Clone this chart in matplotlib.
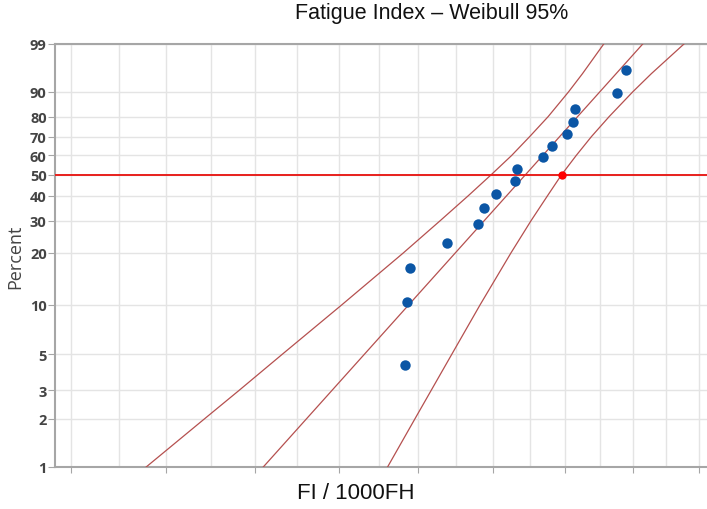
import numpy as np
import matplotlib
matplotlib.use("Agg")
import matplotlib.pyplot as plt

# failure data (FI / 1000FH) and median-rank percent
fi_values = [18.83, 18.86, 18.90, 19.38, 19.79, 19.87, 20.03, 20.30,
             20.32, 20.68, 20.82, 21.03, 21.12, 21.14, 21.76, 21.89]
rank_pct = [4.3, 10.4, 16.5, 22.6, 28.7, 34.8, 40.9, 47.0,
            53.0, 59.1, 65.2, 71.3, 77.4, 83.5, 89.6, 95.7]

# fitted Weibull line (end points)
fit_pct = [1, 99]
fit_x = [17.10, 22.14]

# 95% confidence bounds
band_pct = [1, 2, 3, 5, 10, 20, 30, 40, 50, 60, 70, 80, 90, 95, 99]
band_lower = [15.79, 16.43, 16.82, 17.32, 18.04, 18.81, 19.29, 19.66,
              19.97, 20.25, 20.50, 20.76, 21.05, 21.25, 21.56]
band_upper = [18.61, 18.96, 19.17, 19.44, 19.82, 20.24, 20.52, 20.75,
              20.95, 21.16, 21.38, 21.64, 21.99, 22.27, 22.77]

# B50 marker on upper bound
b50_x = 20.95
b50_pct = 50

y_ticks = [1, 2, 3, 5, 10, 20, 30, 40, 50, 60, 70, 80, 90, 99]
x_major = [15, 16, 17, 18, 19, 20, 21, 22, 23]
x_minor = [15.5, 16.5, 17.5, 18.5, 19.5, 20.5, 21.5, 22.5]


def weib_fwd(p):
    p = np.clip(np.asarray(p, dtype=float), 1e-6, 100 - 1e-6)
    return np.log(-np.log(1 - p / 100.0))


def weib_inv(y):
    return 100.0 * (1 - np.exp(-np.exp(y)))


fig = plt.figure(figsize=(7.07, 5.10), dpi=100)
ax = fig.add_axes([55 / 707, 42 / 510, 1 - 55 / 707, (468 - 45) / 510])

ax.set_xscale('log')
ax.set_yscale('function', functions=(weib_fwd, weib_inv))
ax.set_xlim(14.84, 23.13)
ax.set_ylim(1, 99)

band_col = '#b5504f'
ax.plot(fit_x, fit_pct, color=band_col, lw=0.9, zorder=3)
ax.plot(band_lower, band_pct, color=band_col, lw=0.9, zorder=3)
ax.plot(band_upper, band_pct, color=band_col, lw=0.9, zorder=3)

ax.axhline(50, color='#e8201c', lw=1.4, zorder=4)
ax.plot(fi_values, rank_pct, 'o', color='#0b56a5', ms=7.5, mec='none', zorder=5)
ax.plot([b50_x], [b50_pct], 'o', color='#ff0000', ms=6, mec='none', zorder=6)

ax.set_yticks(y_ticks)
ax.set_yticklabels([str(t) for t in y_ticks])
ax.yaxis.set_minor_locator(matplotlib.ticker.NullLocator())
ax.set_xticks(x_major)
ax.set_xticklabels([''] * len(x_major))
ax.set_xticks(x_minor, minor=True)
ax.set_xticklabels([''] * len(x_minor), minor=True)

ax.grid(True, which='major', color='#e4e4e4', lw=1.0, zorder=0)
ax.grid(True, which='minor', axis='x', color='#e4e4e4', lw=1.0, zorder=0)
ax.set_axisbelow(True)

for s in ['left', 'bottom', 'top']:
    ax.spines[s].set_color('#a6a6a6')
    ax.spines[s].set_linewidth(1.5)
ax.spines['right'].set_visible(False)

ax.tick_params(axis='y', which='major', length=5, color='#a6a6a6',
               labelsize=10.5, labelcolor='#444444', pad=1)
ax.tick_params(axis='x', which='major', length=4, color='#a6a6a6')
ax.tick_params(axis='x', which='minor', length=0)
for lab in ax.get_yticklabels():
    lab.set_fontfamily('Open Sans')
    lab.set_fontweight('bold')

ax.set_ylabel('Percent', fontsize=13, color='#444444', family='Open Sans', labelpad=4)

fig.text(432 / 707, 1 - 14 / 510, 'Fatigue Index \u2013 Weibull 95%', ha='center', va='center',
         fontsize=15.5, family='Liberation Sans', color='#111111')
fig.text(356 / 707, 1 - 494 / 510, 'FI / 1000FH', ha='center', va='center',
         fontsize=16, family='Liberation Sans', color='#111111')

fig.savefig('out.png', dpi=100)
